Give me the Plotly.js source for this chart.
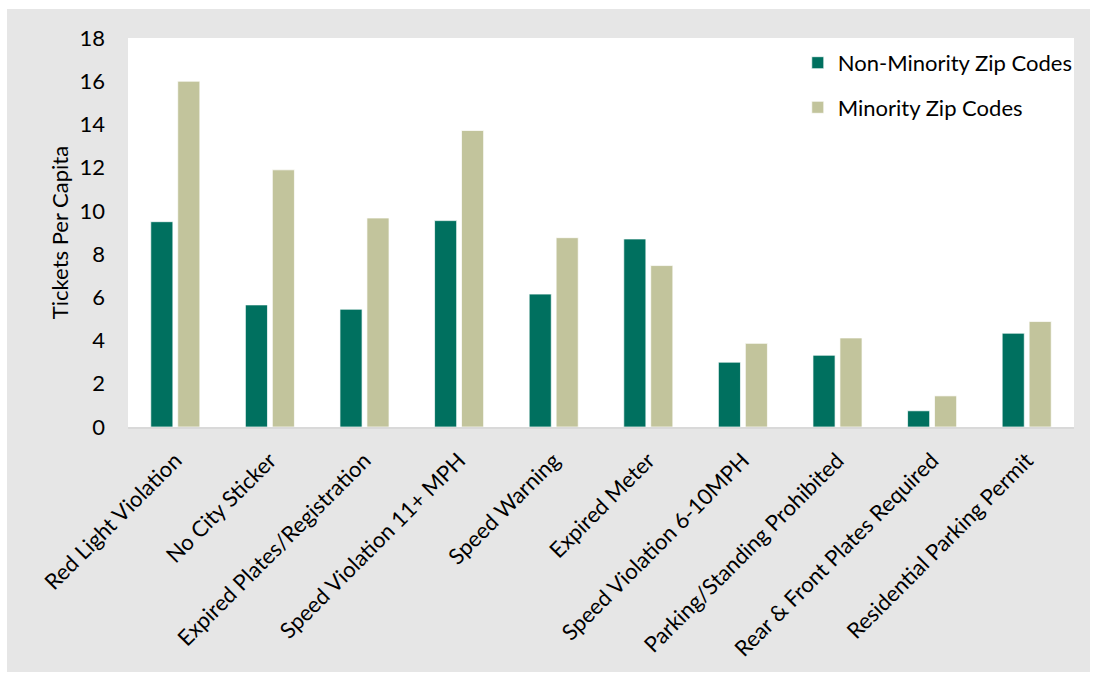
<!DOCTYPE html>
<html>
<head>
<meta charset="utf-8">
<script src="https://cdn.plot.ly/plotly-3.0.1.min.js"></script>
<style>
  html, body { margin: 0; padding: 0; background: #ffffff; width: 1093px; height: 674px; overflow: hidden; }
  #chart { position: absolute; left: 7px; top: 9px; width: 1083px; height: 663px; }
</style>
</head>
<body>
<div id="chart"></div>
<script>
const categories = [
  "Red Light Violation",
  "No City Sticker",
  "Expired Plates/Registration",
  "Speed Violation 11+ MPH",
  "Speed Warning",
  "Expired Meter",
  "Speed Violation 6-10MPH",
  "Parking/Standing Prohibited",
  "Rear & Front Plates Required",
  "Residential Parking Permit"
];
const nonMinority = [9.5, 5.65, 5.45, 9.55, 6.15, 8.7, 3.0, 3.32, 0.75, 4.34];
const minority    = [16.0, 11.9, 9.67, 13.72, 8.76, 7.47, 3.87, 4.12, 1.44, 4.88];
const seriesNames = ["Non-Minority Zip Codes", "Minority Zip Codes"];
const yTicks = [0, 2, 4, 6, 8, 10, 12, 14, 16, 18];

const FONT = "Lato, 'Open Sans', sans-serif";
const FS = 22;

const traces = [
  {
    type: "bar", x: categories, y: nonMinority, name: seriesNames[0],
    legendgroup: "a",
    marker: { color: "#00705F", line: { color: "rgba(255,255,255,0.7)", width: 1 } }
  },
  {
    type: "bar", x: categories, y: minority, name: seriesNames[1],
    legendgroup: "b",
    marker: { color: "#C2C49C", line: { color: "rgba(255,255,255,0.7)", width: 1 } }
  }
];

const layout = {
  width: 1083, height: 663,
  paper_bgcolor: "#E6E6E6",
  plot_bgcolor: "#FFFFFF",
  margin: { l: 121, r: 16, t: 29, b: 245, autoexpand: false },
  barmode: "group",
  bargap: 0.43,
  bargroupgap: 0.18,
  font: { family: FONT, size: FS, color: "#000000" },
  showlegend: true,
  legend: {
    x: 0.708, xanchor: "left", y: 0.99, yanchor: "top",
    bgcolor: "rgba(0,0,0,0)",
    font: { family: FONT, size: FS, color: "#000000" },
    tracegroupgap: 13,
    traceorder: "grouped"
  },
  xaxis: {
    type: "category",
    tickangle: -45,
    showline: true, linecolor: "#D9D9D9", linewidth: 2,
    showgrid: false, zeroline: false,
    ticks: "",
    tickfont: { family: FONT, size: FS, color: "#000000" },
    ticklabelstandoff: 10
  },
  yaxis: {
    range: [0, 18],
    tickmode: "array", tickvals: yTicks, ticktext: yTicks.map(String),
    showgrid: false, zeroline: false, showline: false,
    ticks: "",
    tickfont: { family: FONT, size: FS, color: "#000000" },
    ticklabelstandoff: 22,
    title: { text: "Tickets Per Capita", font: { family: FONT, size: FS, color: "#000000" }, standoff: 4 }
  }
};

Plotly.newPlot("chart", traces, layout, { displayModeBar: false, staticPlot: true });
</script>
</body>
</html>
